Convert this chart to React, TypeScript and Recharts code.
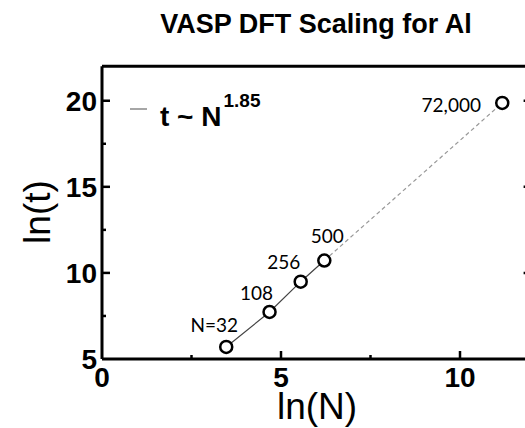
import React from 'react';
import { ComposedChart, XAxis, YAxis, Line, Scatter, Customized } from 'recharts';

const sizeLabels = ['N=32', '108', '256', '500', '72,000'];
const lnN = [3.47, 4.68, 5.55, 6.21, 11.18];
const lnT = [5.7, 7.73, 9.49, 10.72, 19.87];
const xTicks = [0, 2.5, 5, 7.5, 10];
const yTicks = [5, 7.5, 10, 12.5, 15, 17.5, 20];
const xMajor = [0, 5, 10];
const yMajor = [5, 10, 15, 20];
const fitExponent = '1.85';
const title = 'VASP DFT Scaling for Al';

const points = lnN.map((x, i) => ({ x, y: lnT[i], label: sizeLabels[i] }));
const solidFit = points.slice(0, 4);
const dashedFit = points.slice(3);

// label offsets (style only)
const labelOffsets: Record<string, [number, number]> = {
  'N=32': [-12, -22],
  '108': [-13, -19],
  '256': [-17, -20],
  '500': [3, -25],
  '72,000': [-51, 2],
};

const TICK_FONT = "'Liberation Sans', Arial, sans-serif";

const BottomTick = (props: any) => {
  const { x, y, payload } = props;
  const v = payload.value;
  const major = xMajor.includes(v);
  return (
    <g>
      {v !== 0 && (
        <line x1={x} y1={y} x2={x} y2={y - (major ? 8 : 4)} stroke="#000" strokeWidth={2.5} />
      )}
      {major && (
        <text x={x} y={y + 28} textAnchor="middle" fontFamily={TICK_FONT} fontWeight="bold" fontSize={28} fill="#000">
          {v}
        </text>
      )}
    </g>
  );
};

const TopTick = (props: any) => {
  const { x, y, payload } = props;
  const v = payload.value;
  if (v === 0) return <g />;
  const major = xMajor.includes(v);
  return <line x1={x} y1={y} x2={x} y2={y + (major ? 8 : 4)} stroke="#000" strokeWidth={2.5} />;
};

const LeftTick = (props: any) => {
  const { x, y, payload } = props;
  const v = payload.value;
  const major = yMajor.includes(v);
  return (
    <g>
      {v !== 5 && (
        <line x1={x} y1={y} x2={x + (major ? 8 : 4)} y2={y} stroke="#000" strokeWidth={2.5} />
      )}
      {major && (
        <text x={x - 5} y={y + 10} textAnchor="end" fontFamily={TICK_FONT} fontWeight="bold" fontSize={28} fill="#000">
          {v}
        </text>
      )}
    </g>
  );
};

const RightTick = (props: any) => {
  const { x, y, payload } = props;
  const v = payload.value;
  if (v === 5) return <g />;
  const major = yMajor.includes(v);
  return <line x1={x} y1={y} x2={x - (major ? 8 : 4)} y2={y} stroke="#000" strokeWidth={2.5} />;
};

const PointShape = (props: any) => {
  const { cx, cy, payload } = props;
  const off = labelOffsets[payload.label] || [0, -20];
  return (
    <g>
      <circle cx={cx} cy={cy} r={6} fill="#fff" stroke="#000" strokeWidth={2.5} />
      <text
        x={cx + off[0]}
        y={cy + off[1] + 7}
        textAnchor="middle"
        fontFamily="Lato, 'Open Sans', sans-serif"
        fontSize={19}
        fill="#000"
      >
        {payload.label}
      </text>
    </g>
  );
};

const Decor = () => (
  <g>
    <text x={316} y={33} textAnchor="middle" fontFamily={TICK_FONT} fontWeight="bold" fontSize={27} fill="#000">
      {title}
    </text>
    <line x1={130} y1={109} x2={147} y2={109} stroke="#888" strokeWidth={1.5} />
    <text x={160} y={126} fontFamily={TICK_FONT} fontWeight="bold" fontSize={28} fill="#000">
      t ~ N
      <tspan dx={2} dy={-19} fontSize={19}>{fitExponent}</tspan>
    </text>
    <text
      x={50}
      y={212}
      textAnchor="middle"
      transform="rotate(-90, 50, 212)"
      fontFamily={TICK_FONT}
      fontSize={37}
      fill="#000"
    >
      ln(t)
    </text>
    <text x={317} y={419} textAnchor="middle" fontFamily={TICK_FONT} fontSize={37} fill="#000">
      ln(N)
    </text>
  </g>
);

export default function App() {
  return (
    <div style={{ position: 'absolute', left: 0, top: 0, width: 525, height: 428, overflow: 'hidden', background: '#fff' }}>
      <ComposedChart
        width={545}
        height={428}
        margin={{ top: 36.3, right: 3.4, bottom: 29, left: 42 }}
      >
        <XAxis
          type="number"
          dataKey="x"
          domain={[0, 12]}
          ticks={xTicks}
          interval={0}
          height={40}
          tickSize={0}
          tickMargin={0}
          tickLine={false}
          axisLine={{ stroke: '#000', strokeWidth: 3 }}
          tick={<BottomTick />}
          allowDataOverflow
        />
        <XAxis
          xAxisId="top"
          orientation="top"
          type="number"
          domain={[0, 12]}
          ticks={xTicks}
          interval={0}
          height={30}
          tickSize={0}
          tickMargin={0}
          tickLine={false}
          axisLine={{ stroke: '#000', strokeWidth: 3 }}
          tick={<TopTick />}
          allowDataOverflow
        />
        <YAxis
          type="number"
          dataKey="y"
          domain={[5, 22]}
          ticks={yTicks}
          interval={0}
          width={60}
          tickSize={0}
          tickMargin={0}
          tickLine={false}
          axisLine={{ stroke: '#000', strokeWidth: 3 }}
          tick={<LeftTick />}
          allowDataOverflow
        />
        <YAxis
          yAxisId="right"
          orientation="right"
          type="number"
          domain={[5, 22]}
          ticks={yTicks}
          interval={0}
          width={10}
          tickSize={0}
          tickMargin={0}
          tickLine={false}
          axisLine={{ stroke: '#000', strokeWidth: 3 }}
          tick={<RightTick />}
          allowDataOverflow
        />
        <Line
          data={solidFit}
          dataKey="y"
          type="linear"
          stroke="#444"
          strokeWidth={1.2}
          dot={false}
          activeDot={false}
          isAnimationActive={false}
        />
        <Line
          data={dashedFit}
          dataKey="y"
          type="linear"
          stroke="#999"
          strokeWidth={1.2}
          strokeDasharray="4 3"
          dot={false}
          activeDot={false}
          isAnimationActive={false}
        />
        <Scatter data={points} dataKey="y" shape={<PointShape />} isAnimationActive={false} />
        <Customized component={Decor} />
      </ComposedChart>
    </div>
  );
}
